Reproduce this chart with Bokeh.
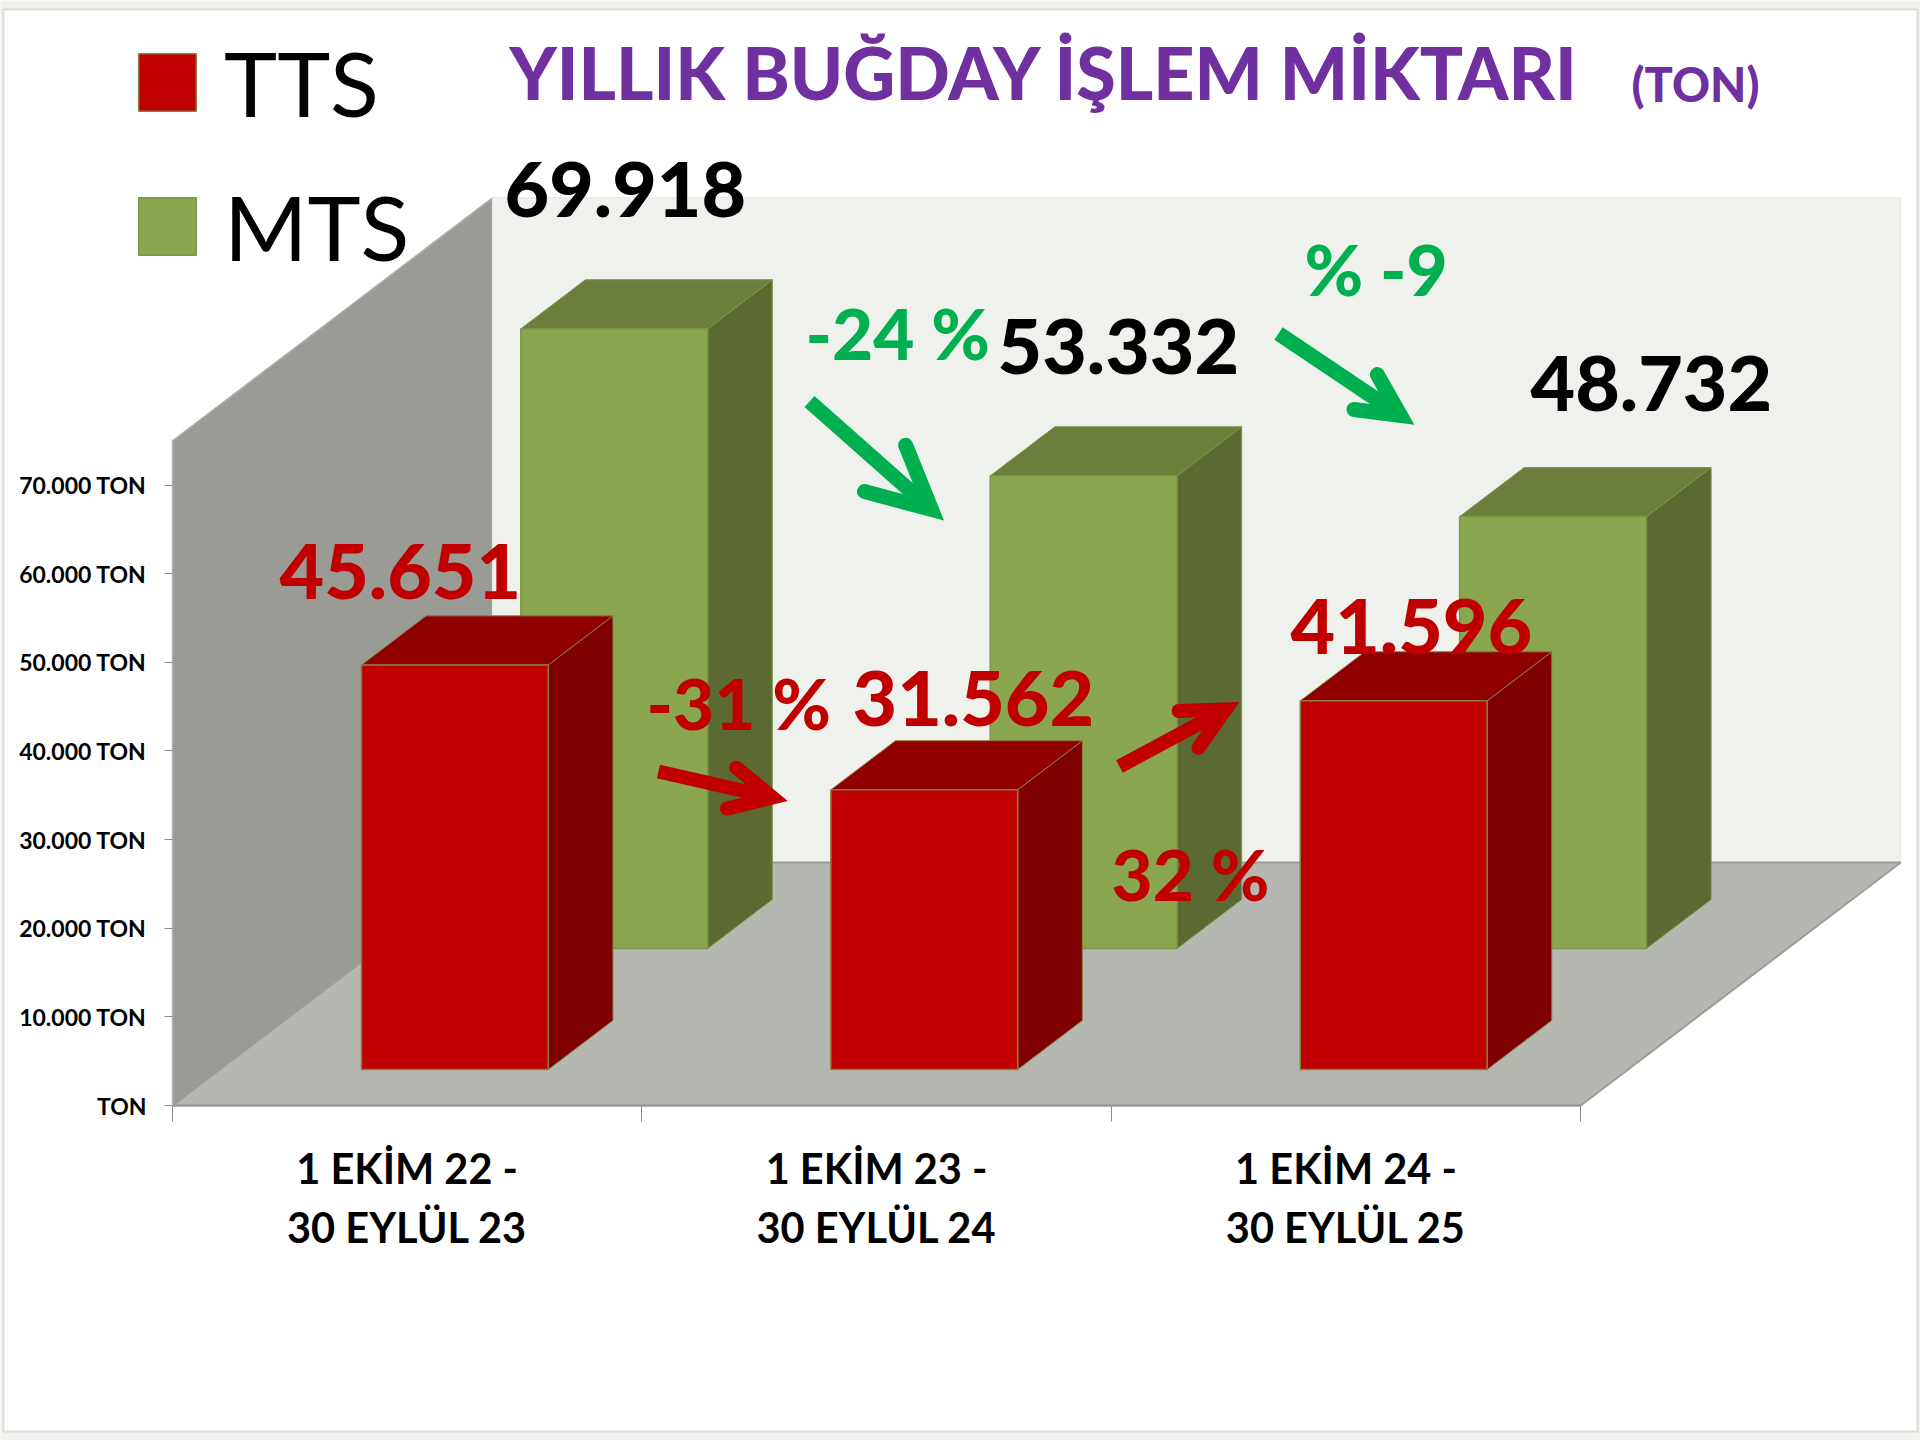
from bokeh.plotting import figure
from bokeh.embed import file_html
from bokeh.resources import INLINE
from bokeh.core.properties import value
from bokeh.models import (Range1d, LinearAxis, FixedTicker, Arrow, OpenHead, Legend, LegendItem, BoxAnnotation)

categories = ["1 EKİM 22 -\n30 EYLÜL 23", "1 EKİM 23 -\n30 EYLÜL 24", "1 EKİM 24 -\n30 EYLÜL 25"]
tts_values = [45651, 31562, 41596]
mts_values = [69918, 53332, 48732]
y_ticks = [0, 10000, 20000, 30000, 40000, 50000, 60000, 70000]
y_labels = ["TON", "10.000 TON", "20.000 TON", "30.000 TON", "40.000 TON", "50.000 TON", "60.000 TON", "70.000 TON"]
title_main = "YILLIK BUĞDAY İŞLEM MİKTARI"
title_unit = "(TON)"
tts_changes = ["-31 %", "32 %"]
mts_changes = ["-24 %", "% -9"]

W, H = 1920, 1440
X0, PX_CAT = 172.0, 469.4
Y0, PX_K = 1105.0, 8.863
DX, DY = 320 / PX_CAT, 243 / PX_K * 1000
WALL = 75000

def xd(px): return (px - X0) / PX_CAT
def yd(py): return (Y0 - py) / PX_K * 1000
def pt(c, z, v): return (c + z * DX, v + z * DY)
def poly(*pts):
    return [a for a, _ in pts], [b for _, b in pts]

p = figure(width=W, height=H, output_backend="svg", toolbar_location=None,
           x_range=Range1d(xd(0), xd(W)), y_range=Range1d(yd(H), yd(0)),
           min_border_left=0, min_border_right=0, min_border_top=0, min_border_bottom=0,
           x_axis_type=None, y_axis_type=None,
           border_fill_color="#f2f1ee", background_fill_color="#f2f1ee", outline_line_color=None,
           styles={"position": "absolute", "left": "0px", "top": "0px"})
p.grid.visible = False

p.add_layout(BoxAnnotation(left=xd(3), right=xd(1917), top=yd(9), bottom=yd(1431), fill_color="#ffffff", fill_alpha=1,
                           line_color="#9a9a9a", line_width=2, level="underlay"))

# walls and floor
lx, ly = poly(pt(0, 0, 0), pt(0, 1, 0), pt(0, 1, WALL), pt(0, 0, WALL))
p.patch(lx, ly, fill_color="#999b94", line_color="#b0b1ac", line_width=1.5)
bx, by = poly(pt(0, 1, 0), pt(3, 1, 0), pt(3, 1, WALL), pt(0, 1, WALL))
p.patch(bx, by, fill_color="#eff2ec", line_color="#e6e9e2", line_width=1)
fx, fy = poly(pt(0, 0, 0), pt(3, 0, 0), pt(3, 1, 0), pt(0, 1, 0))
p.patch(fx, fy, fill_color="#b5b8b1", line_color="#9a9c96", line_width=2)

GAP, BW = 0.3017, 0.398

def bars(vals, z0, z1, front, side, top, edge):
    fr, si, to = ([], []), ([], []), ([], [])
    for i, v in enumerate(vals):
        a, b = i + GAP, i + GAP + BW
        for store, pts in ((fr, (pt(a, z0, 0), pt(b, z0, 0), pt(b, z0, v), pt(a, z0, v))),
                           (si, (pt(b, z0, 0), pt(b, z1, 0), pt(b, z1, v), pt(b, z0, v))),
                           (to, (pt(a, z0, v), pt(b, z0, v), pt(b, z1, v), pt(a, z1, v)))):
            xs, ys = poly(*pts)
            store[0].append(xs); store[1].append(ys)
    p.patches(si[0], si[1], fill_color=side, line_color=edge, line_width=1)
    p.patches(to[0], to[1], fill_color=top, line_color=edge, line_width=1)
    return p.patches(fr[0], fr[1], fill_color=front, line_color=edge, line_width=1.5)

mts_r = bars(mts_values, 0.646, 0.848, "#8aa64f", "#5a6a32", "#6c7e3c", "#7d9548")
tts_r = bars(tts_values, 0.148, 0.350, "#c00000", "#7f0000", "#900000", "#8a7d3c")

# axes
yax = LinearAxis(ticker=FixedTicker(ticks=y_ticks), bounds=(0, WALL), fixed_location=0,
                 major_label_overrides=dict(zip(y_ticks, y_labels)),
                 major_tick_out=8, major_tick_in=0, major_tick_line_color="#8c8c8c", minor_tick_line_color=None,
                 axis_line_color="#b4b4b4", major_label_text_font="Lato",
                 major_label_text_font_style="bold", major_label_text_font_size="23px",
                 major_label_text_color="#000000", major_label_standoff=18)
p.add_layout(yax, "left")
mids = [i + 0.5 for i in range(len(categories))]
xax = LinearAxis(ticker=FixedTicker(ticks=mids, minor_ticks=[0, 1, 2, 3]), bounds=(0, 3), fixed_location=0,
                 major_label_overrides=dict(zip(mids, categories)),
                 major_tick_line_color=None, minor_tick_out=16, minor_tick_in=0, minor_tick_line_color="#8c8c8c",
                 axis_line_color="#9a9c96", axis_line_width=2,
                 major_label_text_font="Lato", major_label_text_font_style="bold",
                 major_label_text_font_size="41.5px", major_label_text_color="#000000",
                 major_label_text_line_height=1.19, major_label_standoff=21)
p.add_layout(xax, "below")

BASE_SHIFT = 0.36
HEAVY = value("Lato Black, Lato")

def label(txt, px, py, color, size):
    p.text([xd(px)], [yd(py - BASE_SHIFT * size)], text=[txt], text_color=color, text_font=HEAVY,
           text_font_style="bold", text_font_size=f"{size}px", text_baseline="alphabetic", text_align="left")

def fmt(v): return f"{v:,}".replace(",", ".")

GREEN, RED, PURPLE = "#00b050", "#c00000", "#7030a0"
label(title_main, 509, 97, PURPLE, 71.8)
label(title_unit, 1631, 100, PURPLE, 47)
for v, (px, py) in zip(mts_values, [(504, 217), (997, 374), (1530, 411)]):
    label(fmt(v), px, py, "#000000", 77)
for v, (px, py) in zip(tts_values, [(279, 599), (852, 726), (1290, 654)]):
    label(fmt(v), px, py, RED, 77)
for t, (px, py) in zip(tts_changes, [(646, 728), (1111, 899)]):
    label(t, px, py, RED, 71)
for t, (px, py) in zip(mts_changes, [(805, 358), (1304, 294)]):
    label(t, px, py, GREEN, 71)

def arrow(x0, y0, x1, y1, color, size, lw):
    p.add_layout(Arrow(x_start=xd(x0), y_start=yd(y0), x_end=xd(x1), y_end=yd(y1), line_color=color, line_width=lw,
                       end=OpenHead(size=size, line_color=color, line_width=lw, line_cap="round", line_join="miter")))

arrow(658, 771, 772, 797, RED, 42, 14)
arrow(1119, 766, 1225, 709, RED, 42, 14)
arrow(809, 401, 931, 509, GREEN, 62, 15)
arrow(1278, 333, 1400, 415, GREEN, 42, 15)

legend = Legend(items=[LegendItem(label="TTS", renderers=[tts_r]), LegendItem(label="MTS", renderers=[mts_r])],
                location=(131, 1160), orientation="vertical", glyph_width=72, glyph_height=72, spacing=36,
                label_standoff=21, label_text_font="Lato", label_text_font_size="90px", label_height=72,
                label_text_color="#000000", background_fill_alpha=0, border_line_color=None, padding=0, margin=0)
p.add_layout(legend, "center")

open("out.html", "w").write(file_html(p, INLINE))
